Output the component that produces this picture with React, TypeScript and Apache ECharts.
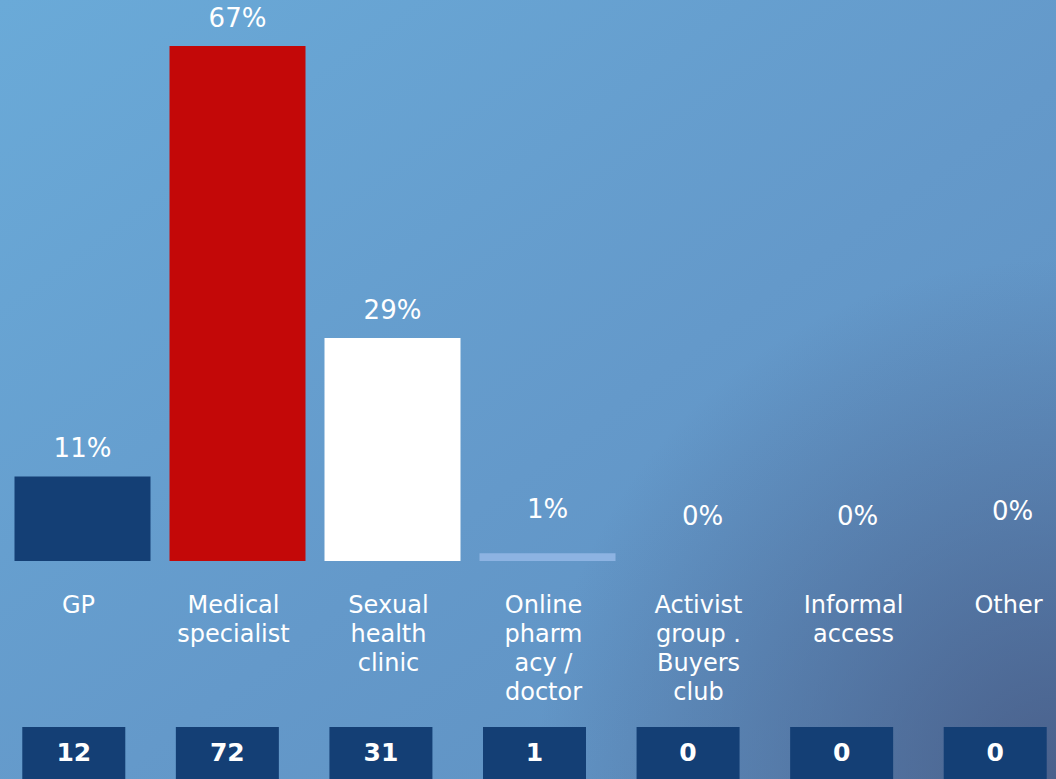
import React, { useEffect, useRef } from "react";
import * as echarts from "echarts";

const categories = [
  "GP",
  "Medical\nspecialist",
  "Sexual\nhealth\nclinic",
  "Online\npharm\nacy /\ndoctor",
  "Activist\ngroup .\nBuyers\nclub",
  "Informal\naccess",
  "Other",
];
const percentValues = [11, 67, 29, 1, 0, 0, 0];
const counts = [12, 72, 31, 1, 0, 0, 0];

// styling (not data)
const barColors = ["#143F75", "#C30808", "#FFFFFF", "#8DB3E2", "#143F75", "#143F75", "#143F75"];
const labelDistance = [15, 15, 15, 31, 32, 32, 37];

const FONT = "DejaVu Sans";

export default function App() {
  const ref = useRef<HTMLDivElement>(null);
  useEffect(() => {
    if (!ref.current) return;
    const chart = echarts.init(ref.current, undefined, { renderer: "svg" });
    chart.setOption({
      animation: false,
      grid: [
        { left: 25, width: 1085, top: 23, bottom: 218 },
        { left: 17, width: 1075, top: 700, bottom: 50 },
      ],
      xAxis: [
        {
          type: "category",
          gridIndex: 0,
          data: categories,
          axisLine: { show: false },
          axisTick: { show: false },
          splitLine: { show: false },
          axisLabel: {
            interval: 0,
            color: "#FFFFFF",
            fontFamily: FONT,
            fontSize: 24,
            lineHeight: 29,
            margin: 29,
            padding: [0, 8, 0, 0],
          },
        },
        {
          type: "category",
          gridIndex: 1,
          data: counts.map(String),
          axisLine: { show: false },
          axisTick: { show: false },
          splitLine: { show: false },
          axisLabel: {
            interval: 0,
            margin: 2,
            color: "#FFFFFF",
            fontFamily: FONT,
            fontSize: 25,
            fontWeight: "bold",
            backgroundColor: "#143F75",
            width: 103,
            lineHeight: 26,
            padding: [12, 0, 14, 0],
            align: "center",
          },
        },
      ],
      yAxis: [
        { type: "value", gridIndex: 0, min: 0, max: 70, show: false },
        { type: "value", gridIndex: 1, min: 0, max: 1, show: false },
      ],
      series: [
        {
          type: "bar",
          xAxisIndex: 0,
          yAxisIndex: 0,
          barWidth: 136,
          data: percentValues.map((v, i) => ({
            value: v,
            itemStyle: { color: barColors[i] },
            label: { distance: labelDistance[i] },
          })),
          label: {
            show: true,
            position: "top",
            formatter: "{c}%",
            color: "#FFFFFF",
            fontFamily: FONT,
            fontSize: 26,
          },
        },
      ],
    });
    return () => chart.dispose();
  }, []);
  return (
    <div
      style={{
        position: "fixed",
        left: 0,
        top: 0,
        width: 1056,
        height: 779,
        overflow: "hidden",
        background:
          "radial-gradient(circle at 100% 100%, rgba(70,88,130,0.85) 0px, rgba(70,88,130,0) 520px), linear-gradient(to bottom right, #6AAAD8 0%, #6499CA 55%, #5E8FC0 100%)",
      }}
    >
      <div
        ref={ref}
        style={{ position: "absolute", left: -20, top: 0, width: 1120, height: 779 }}
      />
    </div>
  );
}
